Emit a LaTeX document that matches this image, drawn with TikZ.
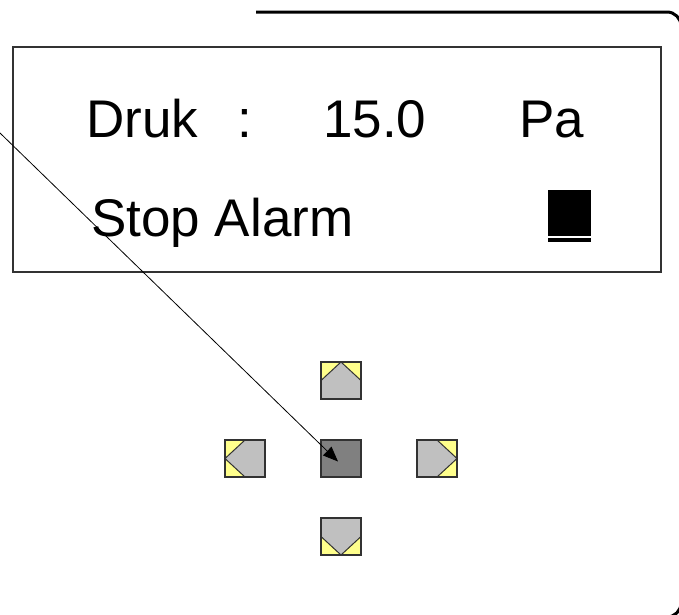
\documentclass[tikz,border=0pt]{standalone}
\usepackage{fontspec}
\setmainfont{Liberation Sans}
\usetikzlibrary{arrows.meta,positioning}
\definecolor{keygray}{RGB}{192,192,192}
\definecolor{keydark}{RGB}{128,128,128}
\definecolor{keyyellow}{RGB}{255,255,140}
\definecolor{keyline}{RGB}{50,50,50}
\newcommand{\lcdfont}{\fontsize{53}{60}\selectfont}
\newcommand{\keycorner}[3]{%
  \fill[keyyellow] (path picture bounding box.#1)
    -- (path picture bounding box.#2) -- (path picture bounding box.#3) -- cycle;}
\newcommand{\keyedge}[3]{%
  \draw[keyline,line width=1pt] (path picture bounding box.#1)
    -- (path picture bounding box.#2) -- (path picture bounding box.#3);}
\tikzset{
  frame/.style={draw=black,line width=3pt,rounded corners=14pt},
  lcdbox/.style={
    draw=keyline,line width=2pt,inner sep=0pt,
    minimum width=648pt,minimum height=225pt
  },
  lcdtext/.style={anchor=base west,inner sep=0pt,font=\lcdfont},
  cursor/.style={fill=black,inner sep=0pt,minimum width=43pt,minimum height=46pt},
  cursorline/.style={fill=black,inner sep=0pt,minimum width=43pt,minimum height=4pt},
  keybase/.style={
    draw=keyline,line width=2pt,fill=keygray,inner sep=0pt,
    minimum width=40pt,minimum height=37pt
  },
  keyok/.style={keybase,fill=keydark},
  keyup/.style={keybase,path picture={
      \keycorner{north west}{north}{west}\keycorner{north east}{north}{east}
      \keyedge{west}{north}{east}}},
  keydown/.style={keybase,path picture={
      \keycorner{south west}{south}{west}\keycorner{south east}{south}{east}
      \keyedge{west}{south}{east}}},
  keyleft/.style={keybase,path picture={
      \keycorner{north west}{north}{west}\keycorner{south west}{south}{west}
      \keyedge{north}{west}{south}}},
  keyright/.style={keybase,path picture={
      \keycorner{north east}{north}{east}\keycorner{south east}{south}{east}
      \keyedge{north}{east}{south}}},
  pointerarrow/.style={-{Triangle[length=15pt,width=12pt]},line width=0.8pt,draw=black}
}
\begin{document}
\begin{tikzpicture}[x=1pt,y=-1pt,node distance=39pt and 54pt]
  \useasboundingbox (0,0) rectangle (679,614);
  \clip (0,0) rectangle (679,614);

  % housing
  \draw[frame] (256,12) -- (681,12) -- (681,617) -- (600,617);

  % display
  \node[lcdbox] (lcd) at (337,159.5) {};
  \node[lcdtext] (druk) at (86,137) {Druk};
  \node[lcdtext] (colon) at (237,137) {:};
  \node[lcdtext] (value) at (323,137) {15.0};
  \node[lcdtext] (unit) at (519,137) {Pa};
  \node[lcdtext] (stopalarm) at (91,236) {Stop Alarm};
  \node[cursor] (cursor) at (569.5,213) {};
  \node[cursorline,below=2pt of cursor] (cursorbar) {};

  % keys
  \node[keyok] (okkey) at (341,458.5) {};
  \node[keyup,above=of okkey] (upkey) {};
  \node[keydown,below=of okkey] (downkey) {};
  \node[keyleft,left=of okkey] (leftkey) {};
  \node[keyright,right=of okkey] (rightkey) {};

  \coordinate (pointer) at (0,133);
  \draw[pointerarrow] (pointer) -- ([shift={(-3pt,-3pt)}]okkey.center);
\end{tikzpicture}
\end{document}
